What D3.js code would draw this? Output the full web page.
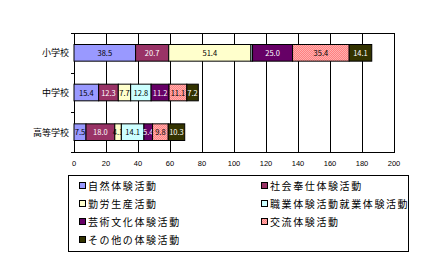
<!DOCTYPE html>
<html><head><meta charset="utf-8">
<script src="https://cdn.jsdelivr.net/npm/d3@7"></script>
<style>body{margin:0;background:#fff}svg{display:block}</style>
</head><body><svg id="c" width="429" height="255"></svg>
<script>
const categories = ["小学校","中学校","高等学校"];
const seriesNames = ["自然体験活動","社会奉仕体験活動","勤労生産活動","職業体験活動就業体験活動","芸術文化体験活動","交流体験活動","その他の体験活動"];
const v自然 = [38.5, 15.4, 7.5];
const v社会 = [20.7, 12.3, 18.0];
const v勤労 = [51.4, 7.7, 4.1];
const v職業 = [1.0, 12.8, 14.1];
const v芸術 = [25.0, 11.2, 5.4];
const v交流 = [35.4, 11.1, 9.8];
const vその他 = [14.1, 7.2, 10.3];
const xTicks = [0,20,40,60,80,100,120,140,160,180,200];
const seriesValues = [v自然, v社会, v勤労, v職業, v芸術, v交流, vその他];
const colors = ["#9999FF","#993366","#FFFFCC","#CCFFFF","#660066","url(#pSalmon)","#333300"];
const textColors = ["#000","#fff","#000","#000","#fff","#000","#fff"];

const svg = d3.select("#c");
const defs = svg.append("defs");
const p = defs.append("pattern").attr("id","pSalmon").attr("width",2).attr("height",2).attr("patternUnits","userSpaceOnUse");
p.append("rect").attr("width",2).attr("height",2).attr("fill","#FF8080");
p.append("rect").attr("width",1).attr("height",1).attr("fill","#FFB0B0");
p.append("rect").attr("x",1).attr("y",1).attr("width",1).attr("height",1).attr("fill","#FFB0B0");

const L=74, R=394, T=33, B=152;
const x = d3.scaleLinear().domain([0,200]).range([L,R]);
const y = d3.scaleBand().domain(categories).range([T,B]).paddingInner(0.58).paddingOuter(0.29);
const font = "'Noto Sans CJK JP', 'DejaVu Sans', sans-serif";

// gridlines
svg.append("g").selectAll("line").data(xTicks).join("line")
  .attr("x1",d=>Math.round(x(d))+0.5).attr("x2",d=>Math.round(x(d))+0.5)
  .attr("y1",T).attr("y2",B).attr("stroke","#000").attr("stroke-width",1);
svg.append("rect").attr("x",L+0.5).attr("y",T+0.5).attr("width",R-L).attr("height",B-T)
  .attr("fill","none").attr("stroke","#000");

// stacked bars
categories.forEach((c,ci)=>{
  let acc=0;
  seriesValues.forEach((vals,si)=>{
    const v=vals[ci];
    const x0=x(acc), x1=x(acc+v);
    svg.append("rect").attr("x",x0).attr("y",y(c)).attr("width",x1-x0).attr("height",y.bandwidth())
      .attr("fill",colors[si]).attr("stroke","#000").attr("stroke-width",1);
    if (v>=3) {
      svg.append("text").attr("x",(x0+x1)/2).attr("y",y(c)+y.bandwidth()/2+3)
        .attr("text-anchor","middle").attr("font-family",font).attr("font-size",7.5)
        .attr("fill",textColors[si]).text(v.toFixed(1));
    }
    acc+=v;
  });
});

// y labels
svg.append("g").selectAll("text").data(categories).join("text")
  .attr("x",69).attr("y",d=>y(d)+y.bandwidth()/2+3.5).attr("text-anchor","end")
  .attr("font-family",font).attr("font-size",9).text(d=>d);
svg.append("g").selectAll("line").data([T, T+y.step(), T+2*y.step(), B]).join("line")
  .attr("x1",L-3).attr("x2",L).attr("y1",d=>Math.round(d)+0.5).attr("y2",d=>Math.round(d)+0.5).attr("stroke","#000");

// x labels
svg.append("g").selectAll("text").data(xTicks).join("text")
  .attr("x",d=>x(d)).attr("y",166).attr("text-anchor","middle")
  .attr("font-family","'Liberation Sans', Arial, sans-serif").attr("font-size",7.5).text(d=>d);

// legend
svg.append("rect").attr("x",68.5).attr("y",175.5).attr("width",340).attr("height",76)
  .attr("fill","#fff").attr("stroke","#000");
seriesNames.forEach((n,i)=>{
  const col=i%2, row=Math.floor(i/2);
  const lx = col===0 ? 79 : 261, ly = 186 + row*18;
  svg.append("rect").attr("x",lx+0.5).attr("y",ly-3.5).attr("width",6).attr("height",6)
    .attr("fill",colors[i]).attr("stroke","#000");
  svg.append("text").attr("x",lx+9).attr("y",ly+4).attr("font-family",font)
    .attr("font-size",10).attr("letter-spacing",1.6).text(n);
});
</script></body></html>
